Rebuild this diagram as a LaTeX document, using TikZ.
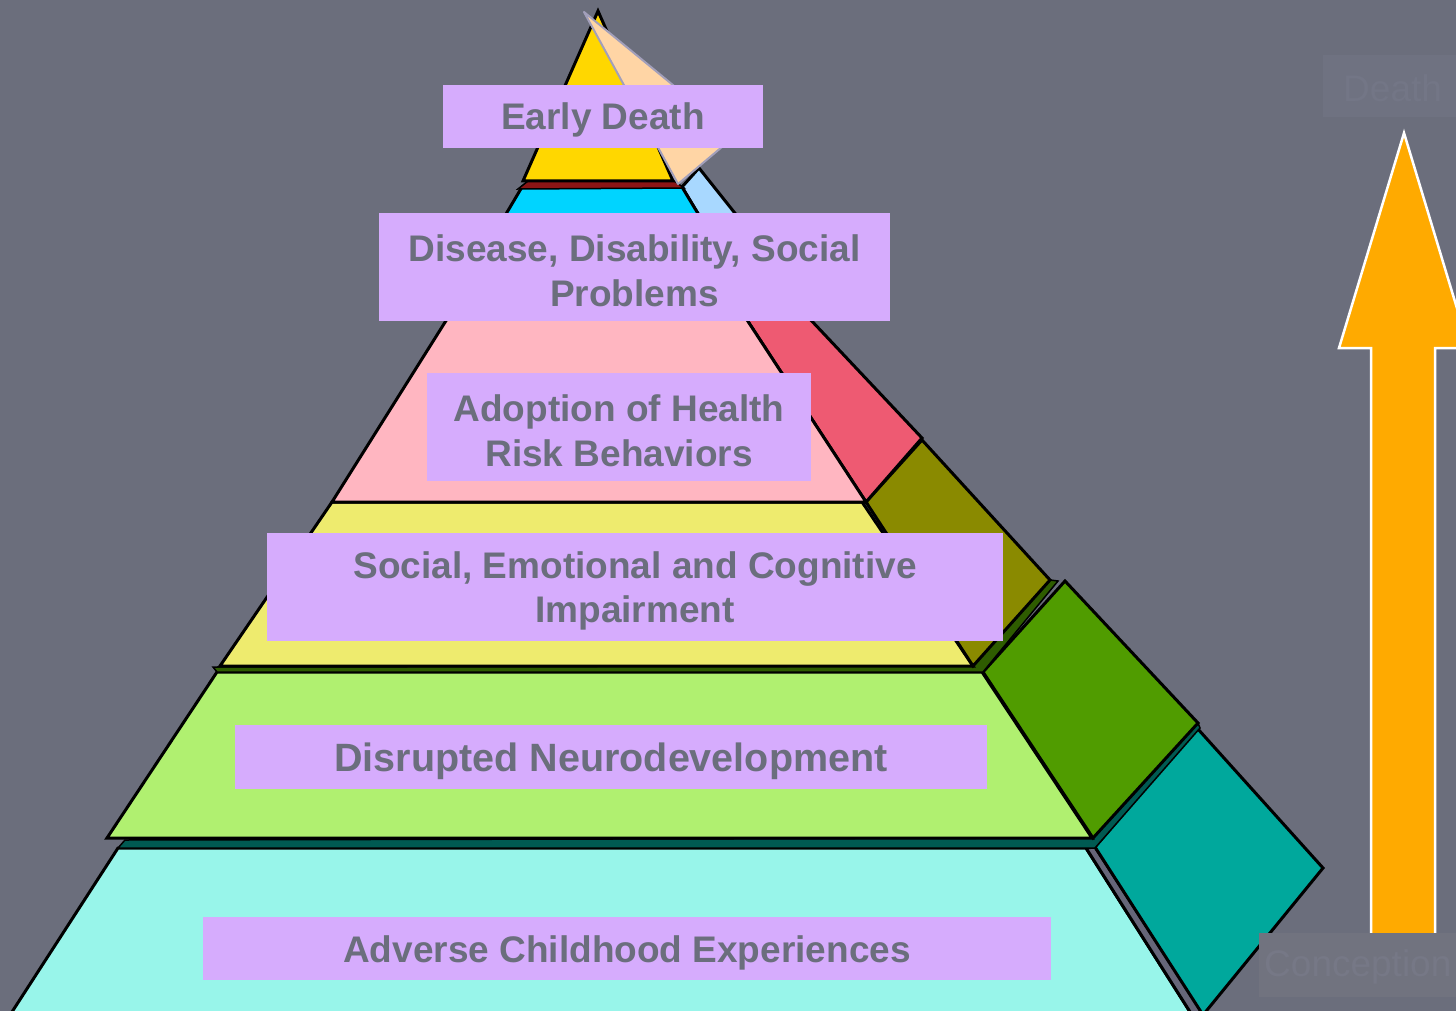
\documentclass[tikz,border=0pt]{standalone}
\usepackage{fontspec}
\setmainfont{Liberation Sans}
\definecolor{bg}{HTML}{6B6E7C}
\definecolor{lav}{HTML}{D6ACFD}
\definecolor{txt}{HTML}{6B6E7D}
\definecolor{aqua}{HTML}{98F5EA}
\definecolor{tealf}{HTML}{00A89C}
\definecolor{dteal}{HTML}{005A52}
\definecolor{lgreen}{HTML}{B0F070}
\definecolor{gface}{HTML}{509C00}
\definecolor{dgreen}{HTML}{2E5C00}
\definecolor{ylw}{HTML}{EEEB6E}
\definecolor{olive}{HTML}{8A8A00}
\definecolor{pinkl}{HTML}{FFB6C1}
\definecolor{redf}{HTML}{EE5A72}
\definecolor{cyanl}{HTML}{00D4FF}
\definecolor{lblue}{HTML}{A8D8FF}
\definecolor{dred}{HTML}{8B1515}
\definecolor{gold}{HTML}{FFD700}
\definecolor{peach}{HTML}{FFD5A5}
\definecolor{peachedge}{HTML}{A29FBA}
\definecolor{orng}{HTML}{FFAA00}
\definecolor{gbox}{HTML}{71737F}
\definecolor{gboxtxt}{HTML}{767886}
\definecolor{tbox}{HTML}{6F7281}
\definecolor{tboxtxt}{HTML}{737686}
\definecolor{shadowg}{HTML}{666679}
\begin{document}
\begin{tikzpicture}[x=1pt,y=-1pt,
  face/.style={draw=black,line width=3pt,line join=miter},
  lblbox/.style={fill=lav,inner sep=0pt},
  lbltxt/.style={inner sep=0pt,text=txt,align=center,
    font=\fontsize{37}{44.5}\selectfont\bfseries},
  ghost/.style={fill=gbox,inner sep=0pt},
  ghosttxt/.style={inner sep=0pt,text=gboxtxt,anchor=west,
    font=\fontsize{37}{44.5}\selectfont}]
\useasboundingbox (0,0) rectangle (1456,1011);
\clip (0,0) rectangle (1456,1011);
\fill[bg] (0,0) rectangle (1456,1011);

% bottom layer
\draw[face,fill=aqua] (118,848) -- (1086,848) -- (1192,1015) -- (10,1015) -- cycle;
\draw[face,fill=shadowg] (1086,848) -- (1095,847) -- (1204,1015) -- (1192,1015) -- cycle;
\draw[face,fill=tealf] (1095,847) -- (1197,728) -- (1323,868) -- (1203,1015) -- cycle;
% dark teal band
\draw[face,fill=dteal,line width=1.5pt] (125,840) -- (1093,838) -- (1198,723) -- (1200,728) -- (1095,848) -- (118,848) -- cycle;
% green layer
\draw[face,fill=lgreen] (217,672) -- (982,672) -- (1092,838) -- (107,838) -- cycle;
\draw[face,fill=gface] (983,672) -- (1065,581) -- (1198,723) -- (1093,838) -- cycle;
% dark green band
\draw[face,fill=dgreen,line width=1.5pt] (213,667) -- (973,666) -- (1050,580) -- (1058,581) -- (983,672) -- (217,672) -- cycle;
% yellow layer
\draw[face,fill=ylw] (332,502) -- (862,502) -- (973,666) -- (220,666) -- cycle;
\draw[face,fill=olive] (866,502) -- (922,440) -- (1050,580) -- (973,666) -- cycle;
% pink layer
\draw[face,fill=redf] (734,300) -- (792,300) -- (922,438) -- (866,502) -- cycle;
\draw[face,fill=pinkl] (459,300) -- (734,300) -- (866,502) -- (332,502) -- cycle;
% cyan layer
\draw[face,fill=lblue] (682,187) -- (699,168) -- (800,295) -- (747,295) -- cycle;
\draw[face,fill=cyanl] (522,187) -- (682,187) -- (747,295) -- (458,295) -- cycle;
% top
\draw[face,fill=dred,line width=1.5pt] (528,181) -- (673,180) -- (684,188) -- (518,189) -- cycle;
\draw[face,fill=gold] (598,11) -- (673,181) -- (523,181) -- cycle;
\draw[fill=peach,draw=peachedge,line width=2pt,line join=round] (584,12) -- (735,136) -- (678,184) -- cycle;

% label boxes
\node[lblbox,minimum width=320pt,minimum height=63pt] (b1) at (603,116.5) {};
\node[lblbox,minimum width=511pt,minimum height=108pt] (b2) at (634.5,267) {};
\node[lblbox,minimum width=384pt,minimum height=108pt] (b3) at (619,427) {};
\node[lblbox,minimum width=736pt,minimum height=108pt] (b4) at (635,587) {};
\node[lblbox,minimum width=752pt,minimum height=64pt] (b5) at (611,757) {};
\node[lblbox,minimum width=848pt,minimum height=63pt] (b6) at (627,948.5) {};
% label texts
\node[lbltxt] (t1) at ([yshift=-3.5pt]b1.center) {Early Death};
\node[lbltxt] (t2) at ([yshift=-4pt]b2.center) {Disease, Disability, Social\\Problems};
\node[lbltxt] (t3) at ([yshift=-4pt]b3.center) {Adoption of Health\\Risk Behaviors};
\node[lbltxt] (t4) at ([yshift=-4pt]b4.center) {Social, Emotional and Cognitive\\Impairment};
\node[lbltxt,font=\fontsize{39.5}{46}\selectfont\bfseries] (t5) at ([yshift=-4pt]b5.center) {Disrupted Neurodevelopment};
\node[lbltxt] (t6) at ([yshift=-4pt]b6.center) {Adverse Childhood Experiences};

% arrow
\draw[fill=orng,draw=white,line width=2.5pt,line join=miter] (1404,133) -- (1469,348) -- (1435,348) -- (1435,960) -- (1371,960) -- (1371,348) -- (1339,348) -- cycle;

% ghost boxes
\node[ghost,minimum width=200pt,minimum height=64pt,anchor=north west] (gb) at (1259,933) {};
\node[ghosttxt] (gbt) at ([xshift=5pt,yshift=-2pt]gb.west) {Conception};
\node[ghost,fill=tbox,minimum width=140pt,minimum height=62pt,anchor=north west] (gt) at (1323,55) {};
\node[ghosttxt,text=tboxtxt] (gtt) at ([xshift=20pt,yshift=-2pt]gt.west) {Death};
\end{tikzpicture}
\end{document}
